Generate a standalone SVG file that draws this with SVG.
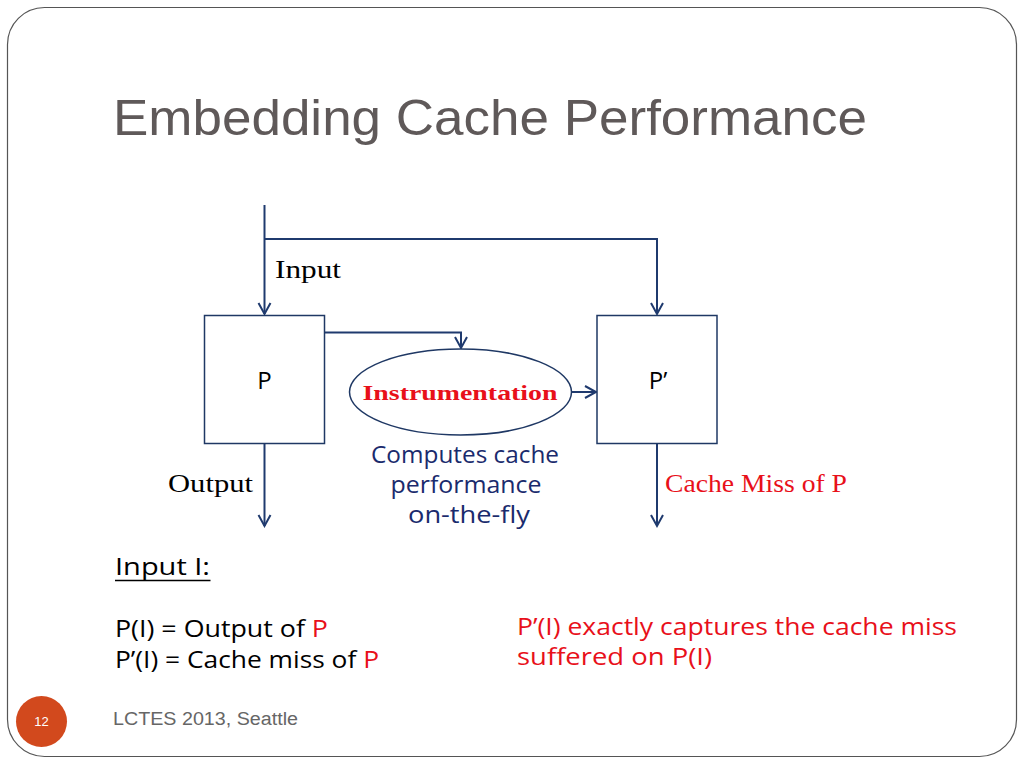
<svg xmlns="http://www.w3.org/2000/svg" width="1024" height="768" viewBox="0 0 1024 768">
<defs>
<marker id="arr" markerUnits="userSpaceOnUse" markerWidth="14" markerHeight="14" refX="11" refY="6" orient="auto" overflow="visible">
<path d="M0,0 L11,6 L0,12" fill="none" stroke="#1f3a6e" stroke-width="2"/>
</marker>
<style>
.conn{fill:none;stroke:#1f3a6e;stroke-width:2}
.box{fill:#fff;stroke:#1f3864;stroke-width:1.5}
.serif{font-family:"Liberation Serif","Times New Roman",serif}
.hand{font-family:"Open Sans","Noto Sans",sans-serif}
.red{fill:#e8101a}
.label{font-family:"Open Sans","Noto Sans",sans-serif;font-size:24px;fill:#000}
</style>
</defs>
<rect x="0" y="0" width="1024" height="768" fill="#fff"/>
<rect x="7.5" y="7.5" width="1009" height="749" rx="37" ry="37" fill="#fff" stroke="#555" stroke-width="1.2"/>
<text x="113" y="135" font-family="Liberation Sans,Arial,sans-serif" font-size="50" fill="#5f5959" textLength="754" lengthAdjust="spacingAndGlyphs">Embedding Cache Performance</text>

<g id="connectors">
<path class="conn" d="M264.5,205 L264.5,314" marker-end="url(#arr)"/>
<path class="conn" d="M264.5,239 L657,239 L657,314" marker-end="url(#arr)"/>
<path class="conn" d="M324,332.5 L461,332.5 L461,348" marker-end="url(#arr)"/>
<path class="conn" d="M571.5,392 L596,392" marker-end="url(#arr)"/>
<path class="conn" d="M264.5,443 L264.5,526" marker-end="url(#arr)"/>
<path class="conn" d="M657,443 L657,526" marker-end="url(#arr)"/>
</g>

<g id="node-P">
<rect class="box" x="204.5" y="315.5" width="120" height="128"/>
<text class="label" x="264.5" y="389" text-anchor="middle">P</text>
</g>
<g id="node-Pprime">
<rect class="box" x="597" y="315.5" width="120" height="128"/>
<text class="label" x="658" y="389" text-anchor="middle">P’</text>
</g>
<g id="node-instrumentation">
<ellipse cx="460.5" cy="392" rx="111" ry="43" fill="#fff" stroke="#1f3864" stroke-width="1.5"/>
<text class="serif red" x="460" y="399.5" font-size="22" font-weight="bold" text-anchor="middle" textLength="195" lengthAdjust="spacingAndGlyphs">Instrumentation</text>
</g>

<g id="labels">
<text class="serif" x="275" y="278" font-size="25" fill="#000" textLength="66" lengthAdjust="spacingAndGlyphs">Input</text>
<text class="serif" x="168" y="492" font-size="25" fill="#000" textLength="85" lengthAdjust="spacingAndGlyphs">Output</text>
<text class="serif red" x="665" y="492" font-size="25" textLength="182" lengthAdjust="spacingAndGlyphs">Cache Miss of P</text>
<g class="hand" font-size="23" fill="#1a2b6d" text-anchor="middle">
<text x="465" y="463" textLength="188" lengthAdjust="spacingAndGlyphs">Computes cache</text>
<text x="466" y="493" textLength="151" lengthAdjust="spacingAndGlyphs">performance</text>
<text x="469" y="523" textLength="122" lengthAdjust="spacingAndGlyphs">on-the-fly</text>
</g>
</g>

<g id="notes" class="hand" font-size="23" fill="#000">
<text x="115" y="575" textLength="95" lengthAdjust="spacingAndGlyphs">Input I:</text>
<line x1="115" y1="580.5" x2="210.5" y2="580.5" stroke="#000" stroke-width="1.5"/>
<text x="115" y="637" textLength="213" lengthAdjust="spacingAndGlyphs">P(I) = Output of <tspan class="red">P</tspan></text>
<text x="115" y="668" textLength="264" lengthAdjust="spacingAndGlyphs">P’(I) = Cache miss of <tspan class="red">P</tspan></text>
<text class="red" x="517" y="635" textLength="440" lengthAdjust="spacingAndGlyphs">P’(I) exactly captures the cache miss</text>
<text class="red" x="517" y="665" textLength="195" lengthAdjust="spacingAndGlyphs">suffered on P(I)</text>
</g>

<g id="footer">
<circle cx="41.5" cy="721.5" r="25.5" fill="#d2491d"/>
<text x="41.5" y="726" font-family="Liberation Sans,Arial,sans-serif" font-size="13" fill="#fff" text-anchor="middle">12</text>
<text x="113" y="725" font-family="Liberation Sans,Arial,sans-serif" font-size="18" fill="#666" textLength="185" lengthAdjust="spacingAndGlyphs">LCTES 2013, Seattle</text>
</g>
</svg>
